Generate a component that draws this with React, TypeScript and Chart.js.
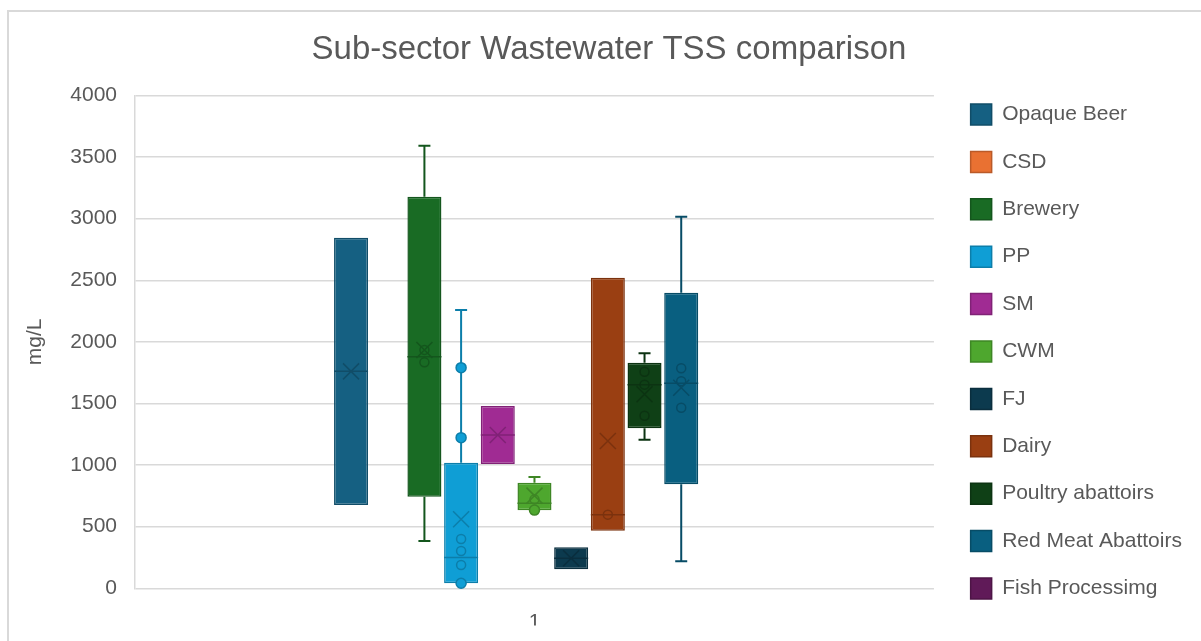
import React, { useEffect, useRef } from 'react';
import { Chart, registerables } from 'chart.js';

Chart.register(...registerables);

const categories = ['1'];
const seriesNames = [
  'Opaque Beer', 'CSD', 'Brewery', 'PP', 'SM', 'CWM', 'FJ', 'Dairy',
  'Poultry abattoirs', 'Red Meat Abattoirs', 'Fish Processimg',
];
const whiskerLow: (number | null)[] = [null, null, 384, null, null, null, null, null, 1206, 219, null];
const quartile1: (number | null)[] = [676, null, 744, 41, 1009, 633, 154, 468, 1299, 844, null];
const medians: (number | null)[] = [1761, null, 1880, 249, 1244, 690, 244, 598, 1653, 1664, null];
const quartile3: (number | null)[] = [2846, null, 3179, 1020, 1480, 857, 333, 2521, 1831, 2399, null];
const whiskerHigh: (number | null)[] = [null, null, 3593, 2259, null, 903, null, null, 1907, 3016, null];
const means: (number | null)[] = [1761, null, 1934, 560, 1244, 752, 244, 1196, 1575, 1628, null];
const innerPoints: number[][] = [[], [], [1935, 1834], [400, 303, 189], [], [722], [], [598], [1758, 1653, 1401], [1786, 1680, 1466], []];
const outlierPoints: number[][] = [[], [], [], [1791, 1223, 41], [], [635], [], [], [], [], []];
const yTicks = [0, 500, 1000, 1500, 2000, 2500, 3000, 3500, 4000];

const fillColors = ['#156082', '#E97132', '#196B24', '#0F9ED5', '#A02B93', '#4EA72E', '#0C3A4E', '#9A3F12', '#0F4016', '#095F80', '#601A58'];
const borderColors = ['#114d68', '#ba5a28', '#14561d', '#0c7eaa', '#802276', '#3e8625', '#0a2e3e', '#7b320e', '#0c3312', '#074c66', '#4d1546'];

const TEXT = '#595959';
const GRID = '#d9d9d9';
const FONT = "'Liberation Sans', Arial, sans-serif";

const boxExtras = {
  id: 'boxExtras',
  afterDatasetsDraw(chart: any) {
    const ctx = chart.ctx;
    const ys = chart.scales.y;
    seriesNames.forEach((_, i) => {
      if (quartile1[i] == null) return;
      const meta = chart.getDatasetMeta(i);
      const bar = meta.data[0];
      if (!bar) return;
      const { x, width } = bar.getProps(['x', 'width'], true);
      const half = width / 2;
      const col = borderColors[i];
      ctx.save();
      ctx.strokeStyle = col;
      ctx.lineWidth = 2;
      const capHalf = 6;
      if (whiskerHigh[i] != null) {
        const yh = ys.getPixelForValue(whiskerHigh[i]);
        const yq = ys.getPixelForValue(quartile3[i]);
        ctx.beginPath();
        ctx.moveTo(x, yq); ctx.lineTo(x, yh);
        ctx.moveTo(x - capHalf, yh); ctx.lineTo(x + capHalf, yh);
        ctx.stroke();
      }
      if (whiskerLow[i] != null) {
        const yl = ys.getPixelForValue(whiskerLow[i]);
        const yq = ys.getPixelForValue(quartile1[i]);
        ctx.beginPath();
        ctx.moveTo(x, yq); ctx.lineTo(x, yl);
        ctx.moveTo(x - capHalf, yl); ctx.lineTo(x + capHalf, yl);
        ctx.stroke();
      }
      ctx.lineWidth = 1.5;
      if (medians[i] != null) {
        const ym = ys.getPixelForValue(medians[i]);
        ctx.beginPath();
        ctx.moveTo(x - half, ym); ctx.lineTo(x + half, ym);
        ctx.stroke();
      }
      innerPoints[i].forEach((v) => {
        const yp = ys.getPixelForValue(v);
        ctx.beginPath();
        ctx.arc(x, yp, 4.5, 0, Math.PI * 2);
        ctx.stroke();
      });
      if (means[i] != null) {
        const ymn = ys.getPixelForValue(means[i]);
        const s = 8;
        ctx.beginPath();
        ctx.moveTo(x - s, ymn - s); ctx.lineTo(x + s, ymn + s);
        ctx.moveTo(x + s, ymn - s); ctx.lineTo(x - s, ymn + s);
        ctx.stroke();
      }
      outlierPoints[i].forEach((v) => {
        const yp = ys.getPixelForValue(v);
        ctx.beginPath();
        ctx.arc(x, yp, 5, 0, Math.PI * 2);
        ctx.fillStyle = fillColors[i];
        ctx.fill();
        ctx.stroke();
      });
      ctx.restore();
    });
  },
};

export default function App() {
  const ref = useRef<HTMLCanvasElement | null>(null);
  useEffect(() => {
    if (!ref.current) return;
    const datasets = seriesNames.map((name, i) => ({
      label: name,
      data: [quartile1[i] == null ? null : [quartile1[i], quartile3[i]]],
      backgroundColor: fillColors[i],
      borderColor: borderColors[i],
      borderWidth: 1.5,
      borderSkipped: false,
      categoryPercentage: 0.5051,
      barPercentage: 0.927,
    }));
    const chart = new Chart(ref.current, {
      type: 'bar',
      data: { labels: categories, datasets: datasets as any },
      plugins: [boxExtras],
      options: {
        animation: false,
        responsive: false,
        maintainAspectRatio: false,
        layout: { padding: { left: 17, right: 9.1, top: 0, bottom: 15.6 } },
        font: { family: FONT },
        plugins: {
          title: {
            display: true,
            text: 'Sub-sector Wastewater TSS comparison',
            color: TEXT,
            font: { size: 33, weight: 'normal', family: FONT },
            padding: { top: 17.7, bottom: 8.3 },
          },
          legend: {
            position: 'right',
            align: 'end',
            maxWidth: 320,
            labels: {
              boxWidth: 21,
              boxHeight: 21,
              padding: 26.4,
              color: TEXT,
              font: { size: 21, family: FONT },
            },
          },
          tooltip: { enabled: false },
        },
        scales: {
          x: {
            type: 'category',
            position: 'bottom',
            grid: { display: false, drawTicks: false },
            border: { display: false },
            ticks: { color: TEXT, font: { size: 21, family: FONT }, padding: 21 },
            afterFit: (s: any) => { s.height = 37.1; },
          },
          xTop: {
            type: 'category',
            position: 'top',
            labels: [''],
            grid: { display: false, drawTicks: false },
            border: { display: false },
            ticks: { display: false },
            afterFit: (s: any) => { s.height = 17.9; },
          },
          y: {
            type: 'linear',
            min: 0,
            max: 4000,
            afterBuildTicks: (s: any) => { s.ticks = yTicks.map((v) => ({ value: v })); },
            grid: { color: GRID, lineWidth: 1.5, drawTicks: false },
            border: { display: true, color: GRID, width: 1.5 },
            ticks: {
              color: TEXT,
              font: { size: 21, family: FONT },
              padding: 18,
              callback: (v: any) => String(v),
            },
            title: {
              display: true,
              text: 'mg/L',
              color: TEXT,
              font: { size: 21, family: FONT },
              padding: { top: -3.1, bottom: 0 },
            },
            afterFit: (s: any) => { s.width = 109; },
          },
          yRight: {
            type: 'linear',
            position: 'right',
            grid: { display: false, drawTicks: false },
            border: { display: false },
            ticks: { display: false },
            afterFit: (s: any) => { s.width = 10.3; },
          },
        },
      } as any,
    });
    return () => chart.destroy();
  }, []);

  return (
    <div
      style={{
        position: 'fixed',
        left: 7,
        top: 10,
        width: 1300,
        height: 700,
        borderLeft: `2px solid ${GRID}`,
        borderTop: `2px solid ${GRID}`,
        background: '#fff',
      }}
    >
      <canvas ref={ref} width={1192} height={629} style={{ display: 'block', width: 1192, height: 629 }} />
    </div>
  );
}
